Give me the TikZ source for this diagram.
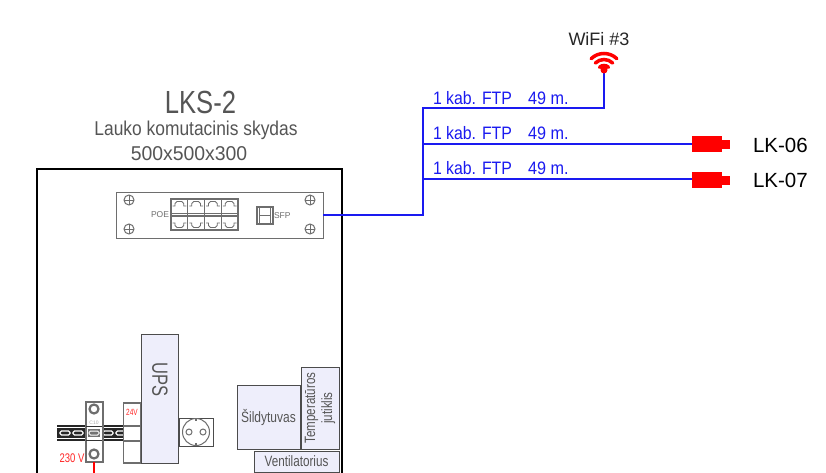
\documentclass[tikz,border=0pt]{standalone}
\usepackage{fontspec}
\setmainfont{Liberation Sans}
\usetikzlibrary{calc}
\definecolor{lav}{HTML}{EEEEFB}
\definecolor{gr}{HTML}{6E6E6E}
\definecolor{txt}{HTML}{555555}
\definecolor{bl}{HTML}{1A1AF0}
\tikzset{
  x=1pt,y=-1pt,
  every node/.style={inner sep=0pt,outer sep=0pt},
  lbl/.style={font=\fontsize{#1}{#1}\selectfont},
  lbl/.default=12,
  titletxt/.style={text=txt,align=center,font=\fontsize{20}{24}\selectfont},
  cable/.style={draw=bl,line width=2pt},
  cablelbl/.style={text=bl,anchor=west,font=\fontsize{18}{18}\selectfont},
  lavbox/.style={draw=black!70,fill=lav,line width=1pt,text=txt},
  screwd/.style={circle,draw=gr,line width=1pt,minimum size=10pt},
  brk/.style={circle,draw=gr,line width=2.2pt,fill=white,minimum size=9pt},
  cambody/.style={fill=red,draw=none},
}
\newcommand{\xs}[2]{\scalebox{#1}[1]{#2}}
\begin{document}
\begin{tikzpicture}
\useasboundingbox (0,0) rectangle (826,473);
\path[fill=white] (0,0) rectangle (826,473);
% cabinet
\draw[black,line width=2pt] (37,473) -- (37,169) -- (342,169) -- (342,473);
\node[titletxt,font=\fontsize{32}{32}\selectfont] (title) at (200.5,102) {\xs{0.8}{LKS-2}};
\node[titletxt] (sub1) at (196,130) {\xs{0.87}{Lauko komutacinis skydas}};
\node[titletxt] (sub2) at (189,154) {\xs{0.97}{500x500x300}};
% switch
\node[draw=gr,line width=1pt,fill=white,minimum width=206.5pt,minimum height=46pt] (switch) at (219.75,215) {};
\foreach \n/\a/\b in {s1/129/200,s2/129/229,s3/310/200,s4/310/229}{
  \node[screwd] (\n) at (\a,\b) {};
  \draw[gr,line width=1pt] (\n.north) -- (\n.south) (\n.west) -- (\n.east);
}
\node[text=gr,font=\fontsize{8.5}{8.5}\selectfont,anchor=east] (poe) at (169,215) {POE};
\node[draw=gr,line width=1.4pt,minimum width=67pt,minimum height=31pt] (rj) at (204.5,214.5) {};
\foreach \x in {171,187.75,204.5,221.25}{
  \draw[gr,line width=1pt] (\x,199) -- (\x,230) (\x+16.75,199) -- (\x+16.75,230);
  \draw[gr,line width=0.9pt] (\x+1.5,206) -- (\x+4,206) -- (\x+4,203.5) -- (\x+6,201.5) -- (\x+10.75,201.5) -- (\x+12.75,203.5) -- (\x+12.75,206) -- (\x+15.25,206);
  \draw[gr,line width=0.9pt] (\x+1.5,223) -- (\x+4,223) -- (\x+4,225.5) -- (\x+6,227.5) -- (\x+10.75,227.5) -- (\x+12.75,225.5) -- (\x+12.75,223) -- (\x+15.25,223);
}
\draw[gr,line width=1.2pt] (171,213.5) -- (238,213.5) (171,216) -- (238,216);
\node[draw=gr,line width=1.4pt,minimum width=16pt,minimum height=17pt] (sfp) at (265,215.5) {};
\draw[gr,line width=1pt] (259.5,207) -- (259.5,224) (270.5,207) -- (270.5,224) (259.5,215.5) -- (270.5,215.5);
\node[text=gr,font=\fontsize{8.5}{8.5}\selectfont,anchor=west] (sfpl) at (274,215.5) {SFP};
% cables
\coordinate (j1) at (423,215);
\coordinate (j2) at (423,179);
\coordinate (j3) at (423,144);
\coordinate (j4) at (423,108);
\coordinate (j5) at (604,108);
\node[minimum size=2pt] (wifi) at (604,72) {};
\node[cambody,minimum width=30pt,minimum height=16pt] (cam1) at (707,144) {};
\node[cambody,minimum width=30pt,minimum height=16pt] (cam2) at (707,180) {};
\node[cambody,minimum width=8pt,minimum height=9pt] (nose1) at (725.5,144.5) {};
\node[cambody,minimum width=8pt,minimum height=9pt] (nose2) at (725.5,180) {};
\draw[cable] (switch.east) -- (j1) -- (j2) -- (j3) -- (j4) -- (j5) -- (wifi.center);
\draw[cable] (j3) -- (j3 -| cam1.west);
\draw[cable] (j2) -- (j2 -| cam2.west);
\foreach \y in {98,133,168}{
  \node[cablelbl] at (433,\y) {\xs{0.88}{1 kab. FTP}};
  \node[cablelbl] at (528,\y) {\xs{0.9}{49 m.}};
}
% wifi symbol
\foreach \r in {6.5,12.5,18.5}{
  \draw[red,line width=3.5pt,line cap=round] ($(wifi.center)+(-46:\r)$) arc[start angle=-46,end angle=-134,radius=\r];
}
\fill[red] (604,70) circle (3.5);
\node[lbl=18,text=black!85] (wlabel) at (599,39) {WiFi \#3};
\node[lbl=20.5,text=black,anchor=west] (lk6) at (753,145) {LK-06};
\node[lbl=20.5,text=black,anchor=west] (lk7) at (753,180) {LK-07};
% UPS
\node[lavbox,minimum width=37pt,minimum height=129pt] (ups) at (159.5,398.5) {};
\node[rotate=-90,text=txt,font=\fontsize{22}{22}\selectfont] (upsl) at (160,379.5) {\xs{0.75}{UPS}};
% socket
\node[draw=black!70,line width=1pt,fill=white,minimum width=34pt,minimum height=28pt] (sock) at (196,432) {};
\node[circle,draw=gr,line width=1pt,minimum size=27pt] (sockc) at (196,432) {};
\node[circle,draw=gr,line width=1pt,minimum size=6pt] (p1) at (189,432) {};
\node[circle,draw=gr,line width=1pt,minimum size=6pt] (p2) at (203,432) {};
\draw[gr,line width=1.4pt] (196,418.5) -- (196,421) (196,443) -- (196,445.5);
% rail
\node[fill=black!85,minimum width=68pt,minimum height=16pt] (rail) at (91,433) {};
\draw[white,line width=0.5pt] (57,427.5) -- (125,427.5) (57,438.5) -- (125,438.5);
\foreach \x in {60,73,88,103,116}{
  \draw[white,line width=1.2pt,rounded corners=1.5pt] (\x,431) rectangle (\x+10,435);
}
% breaker
\node[draw=gr,line width=2pt,fill=white,minimum width=17pt,minimum height=60pt] (brk) at (94,431.5) {};
\fill[black!55] (88,429) rectangle (100,437);
\draw[white,line width=1pt,rounded corners=1.5pt] (89,431) rectangle (99,435);
\draw[black!80,line width=1pt] (86,426) -- (102,426) (86,440) -- (102,440);
\node[brk] (b1) at (94,409) {};
\node[brk] (b2) at (94,454) {};
\node[text=gr!60,font=\fontsize{5}{5}\selectfont] (c10) at (94,423) {C10};
\node[text=red!85,font=\fontsize{12.5}{12.5}\selectfont] (v230) at (72,458) {\xs{0.76}{230 V}};
\draw[red,line width=1.5pt] (brk.south) -- (94,473);
% 24V
\node[draw=gr,line width=1.5pt,fill=white,minimum width=17pt,minimum height=60pt] (v24) at (132,433) {};
\draw[gr,line width=1.5pt] (123.5,426) -- (140.5,426);
\draw[gr,line width=1.5pt] (123.5,441) -- (140.5,441);
\node[text=red!85,font=\fontsize{9}{9}\selectfont] (v24l) at (132,412) {\xs{0.72}{24V}};
% right boxes
\node[lavbox,minimum width=63pt,minimum height=64pt] (heat) at (268.5,417) {\fontsize{15}{15}\selectfont\xs{0.8}{Šildytuvas}};
\node[lavbox,minimum width=38pt,minimum height=82pt] (temp) at (320,408) {};
\node[rotate=90,text=txt,align=center,font=\fontsize{15}{17}\selectfont] (templ) at (320,408) {\xs{0.77}{Temperatūros}\\\xs{0.77}{jutiklis}};
\node[lavbox,minimum width=85pt,minimum height=21pt] (vent) at (296.5,461.5) {\fontsize{15}{15}\selectfont\xs{0.78}{Ventilatorius}};
\end{tikzpicture}
\end{document}
